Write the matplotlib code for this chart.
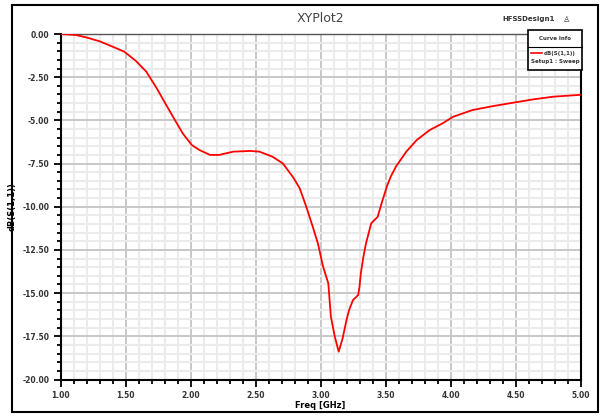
import matplotlib
matplotlib.use("Agg")
import matplotlib.pyplot as plt
from matplotlib.ticker import MultipleLocator, FormatStrFormatter
from matplotlib.patches import Rectangle
from matplotlib.lines import Line2D

freq = [1.00, 1.12, 1.20, 1.30, 1.40, 1.49, 1.58, 1.66, 1.74, 1.82, 1.88, 1.94, 2.01, 2.07, 2.15,
        2.22, 2.33, 2.46, 2.53, 2.63, 2.71, 2.79, 2.84, 2.89, 2.94, 2.98, 3.02, 3.06,
        3.07, 3.08, 3.11, 3.14, 3.17, 3.20, 3.22, 3.25, 3.29, 3.30, 3.31, 3.33, 3.35,
        3.39, 3.44, 3.47, 3.51, 3.54, 3.58, 3.66, 3.74, 3.84, 3.94, 4.02, 4.17, 4.33,
        4.48, 4.64, 4.79, 5.00]
s11 = [0.00, -0.06, -0.20, -0.42, -0.73, -1.02, -1.56, -2.18, -3.14, -4.20, -4.98, -5.75, -6.43, -6.72, -7.00,
       -7.00, -6.81, -6.77, -6.81, -7.10, -7.49, -8.30, -8.93, -9.99, -11.15, -12.12, -13.47, -14.43,
       -15.40, -16.37, -17.52, -18.39, -17.62, -16.56, -15.98, -15.40, -15.11, -14.63, -13.86, -12.90, -12.12,
       -10.96, -10.58, -9.80, -8.84, -8.26, -7.68, -6.81, -6.14, -5.56, -5.17, -4.79, -4.40, -4.17,
       -3.98, -3.78, -3.63, -3.52]

x_major = [1.0, 1.5, 2.0, 2.5, 3.0, 3.5, 4.0, 4.5, 5.0]
y_major = [0.0, -2.5, -5.0, -7.5, -10.0, -12.5, -15.0, -17.5, -20.0]

fig = plt.figure(figsize=(6.02, 4.18), dpi=100)
fig.patch.set_facecolor("white")

# outer frame
fig.patches.append(Rectangle((12/602, 1-412/418), 586/602, 407/418, transform=fig.transFigure,
                             fill=False, edgecolor="black", linewidth=1.5))

ax = fig.add_axes([60.5/602, 1-379.5/418, 520/602, 345.5/418])
ax.plot(freq, s11, color="#ff0000", linewidth=1.3, zorder=3)
ax.set_xlim(1.0, 5.0)
ax.set_ylim(-20.0, 0.0)
ax.set_xticks(x_major)
ax.set_yticks(y_major)
ax.xaxis.set_minor_locator(MultipleLocator(0.1))
ax.yaxis.set_minor_locator(MultipleLocator(0.5))
ax.xaxis.set_major_formatter(FormatStrFormatter("%.2f"))
ax.yaxis.set_major_formatter(FormatStrFormatter("%.2f"))
ax.grid(which="minor", color="#ebebeb", linewidth=1.5, zorder=0)
ax.grid(which="major", color="#c8c8c8", linewidth=1.4, zorder=1)
ax.set_axisbelow(True)
for s in ["left", "bottom", "right"]:
    ax.spines[s].set_linewidth(1.5)
    ax.spines[s].set_color("black")
ax.spines["top"].set_color("#555555")
ax.spines["top"].set_linewidth(1.0)
ax.tick_params(which="major", length=5, width=1.3, labelsize=5.5, pad=3, colors="black")
ax.tick_params(which="minor", length=3, width=1.3)
for lab in ax.get_xticklabels() + ax.get_yticklabels():
    lab.set_fontweight("bold")
    lab.set_color("#333333")
ax.set_xlabel("Freq [GHz]", fontsize=6, fontweight="bold", labelpad=1)
ax.set_ylabel("dB(S(1,1))", fontsize=6, fontweight="bold", labelpad=4)

fig.text(320/602, 1-19/418, "XYPlot2", ha="center", va="center", fontsize=9, color="#444444",
         family="Liberation Sans Narrow")
fig.text(555/602, 1-19/418, "HFSSDesign1", ha="right", va="center", fontsize=5, fontweight="bold",
         color="#333333")
fig.text(566/602, 1-19/418, "\u2659", ha="center", va="center", fontsize=6, color="#444444")

# legend box
lx0, ly0, lx1, ly1 = 528, 30, 582, 70
fig.patches.append(Rectangle((lx0/602, 1-ly1/418), (lx1-lx0)/602, (ly1-ly0)/418,
                             transform=fig.transFigure, facecolor="white", edgecolor="black",
                             linewidth=1.2, zorder=5))
fig.lines.append(Line2D([lx0/602, lx1/602], [1-47/418, 1-47/418], transform=fig.transFigure,
                        color="black", linewidth=0.8, zorder=6))
fig.text(555/602, 1-38/418, "Curve Info", ha="center", va="center", fontsize=4, fontweight="bold",
         color="#333333", zorder=7)
fig.lines.append(Line2D([531/602, 542/602], [1-53/418, 1-53/418], transform=fig.transFigure,
                        color="#ff0000", linewidth=1.2, zorder=6))
fig.text(560/602, 1-53/418, "dB(S(1,1))", ha="center", va="center", fontsize=4, fontweight="bold",
         color="#333333", zorder=7)
fig.text(555/602, 1-62/418, "Setup1 : Sweep", ha="center", va="center", fontsize=4, fontweight="bold",
         color="#333333", zorder=7)

fig.savefig("out.png", dpi=100)
